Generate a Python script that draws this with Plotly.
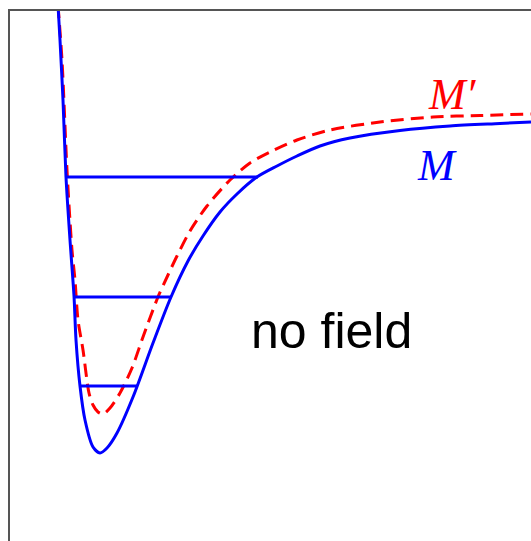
import plotly.graph_objects as go

# Potential curves: x = internuclear distance (arb.),
# y = energy (arb., larger is higher)
r_m = [58, 60, 63, 66, 70, 74, 76, 80, 85, 93, 100, 107, 117, 133, 153, 171,
       188, 203, 220, 237, 257, 277, 297, 320, 350, 400, 450, 500, 531]
e_m = [536, 501, 441, 364, 301, 245, 201, 155, 121, 94, 88, 93, 108, 144, 198, 244,
       280, 305, 329, 347, 364, 375, 385, 395, 403, 410.5, 415, 417.5, 419]

r_mp = [58, 62, 67, 72, 75, 78, 83, 89, 93, 98, 103, 110, 120, 132, 143, 158,
        168, 177, 190, 207, 230, 250, 270, 297, 330, 380, 433, 480, 531]
e_mp = [536, 481, 371, 291, 261, 221, 191, 148, 136, 129, 127, 133, 148, 173, 204, 244,
        266, 285, 310, 335, 361, 378, 389, 401, 411, 419, 424, 425.5, 427]

# Vibrational levels of M: energy, left and right turning points
lvl_e = [364, 244, 155]
lvl_left = [66, 74, 81]
lvl_right = [258, 171, 138]

BLUE = "#0000ff"
RED = "#ff0000"

fig = go.Figure()

fig.add_trace(go.Scatter(
    x=r_mp, y=e_mp, mode="lines",
    line=dict(color=RED, width=3, dash="13px,7px", shape="spline", smoothing=0.8),
    hoverinfo="skip",
))
fig.add_trace(go.Scatter(
    x=r_m, y=e_m, mode="lines",
    line=dict(color=BLUE, width=3, shape="spline", smoothing=0.8),
    hoverinfo="skip",
))

for e, a, b in zip(lvl_e, lvl_left, lvl_right):
    fig.add_trace(go.Scatter(
        x=[a, b], y=[e, e], mode="lines",
        line=dict(color=BLUE, width=3), hoverinfo="skip",
    ))

fig.add_annotation(x=452, y=447, text="<i>M′</i>", showarrow=False,
                   font=dict(family="Liberation Serif", size=44, color=RED))
fig.add_annotation(x=437, y=376, text="<i>M</i>", showarrow=False,
                   font=dict(family="Liberation Serif", size=44, color=BLUE))
fig.add_annotation(x=331, y=210, text="no field", showarrow=False,
                   font=dict(family="Liberation Sans", size=50, color="black"))

fig.update_layout(
    width=531, height=541,
    margin=dict(l=10, r=0, t=11, b=0),
    plot_bgcolor="white", paper_bgcolor="white",
    showlegend=False,
    xaxis=dict(range=[10, 531], side="top", showline=True, linecolor="#555555",
               linewidth=1.5, showgrid=False, zeroline=False,
               showticklabels=False, ticks=""),
    yaxis=dict(range=[0, 530], showline=True, linecolor="#555555",
               linewidth=1.5, showgrid=False, zeroline=False,
               showticklabels=False, ticks=""),
)

# drop the browser's default body margin so the figure sits at the page corner
fig.write_html("out.html", config={"displayModeBar": False},
               post_script="document.body.style.margin='0';")
